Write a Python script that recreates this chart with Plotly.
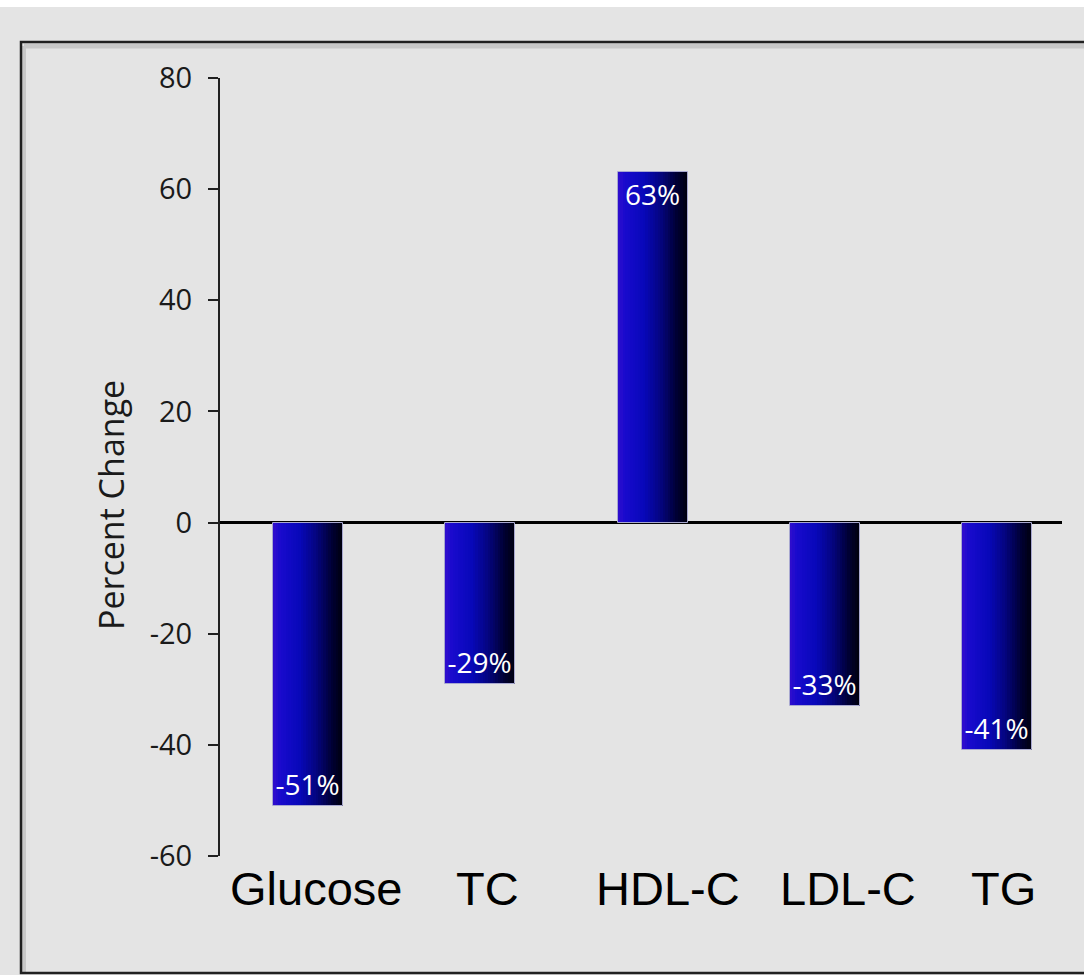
import plotly.graph_objects as go

# Percent change in each marker
categories = ["Glucose", "TC", "HDL-C", "LDL-C", "TG"]
percent_change = [-51, -29, 63, -33, -41]
value_labels = ["-51%", "-29%", "63%", "-33%", "-41%"]
y_ticks = [80, 60, 40, 20, 0, -20, -40, -60]
y_tick_text = ["80", "60", "40", "20", "0", "-20", "-40", "-60"]

W, H = 1084, 975
L, R, T, B = 220, 1062, 78, 856  # plot area in pixels

def px(x):
    return (x - L) / (R - L)

def py(y):
    return (B - y) / (B - T)

BAR_W = 0.406
N_STRIPS = 28

# horizontal blue-to-black shading of the bars
stops = [(0.0, (50, 14, 205)), (0.1, (24, 10, 205)), (0.38, (8, 8, 185)),
         (0.62, (4, 4, 125)), (0.84, (0, 0, 52)), (1.0, (0, 0, 12))]

def shade(t):
    for (t0, c0), (t1, c1) in zip(stops[:-1], stops[1:]):
        if t0 <= t <= t1:
            f = (t - t0) / (t1 - t0)
            return "rgb(%d,%d,%d)" % tuple(round(a + (b - a) * f) for a, b in zip(c0, c1))
    return "rgb(%d,%d,%d)" % stops[-1][1]

fig = go.Figure()
sw = BAR_W / N_STRIPS
for i in range(N_STRIPS):
    fig.add_trace(go.Bar(
        x=categories, y=percent_change,
        width=sw * 1.05, offset=-BAR_W / 2 + i * sw,
        marker=dict(color=shade((i + 0.5) / N_STRIPS), line=dict(width=0)),
        hoverinfo="skip", showlegend=False,
    ))

# outline + value labels
fig.add_trace(go.Bar(
    x=categories, y=percent_change, width=BAR_W, offset=-BAR_W / 2,
    marker=dict(color="rgba(0,0,0,0)", line=dict(color="#a8a8d0", width=1)),
    text=value_labels, textposition="inside", insidetextanchor="end",
    textangle=0,
    textfont=dict(family="Open Sans", size=28, color="white"),
    showlegend=False,
))

shapes = [
    # white strip along the top edge
    dict(type="rect", xref="paper", yref="paper", x0=px(-10), x1=px(W + 10),
         y0=py(7), y1=py(-10), fillcolor="white", line=dict(width=0), layer="below"),
    # inner shadow of the frame
    dict(type="line", xref="paper", yref="paper", x0=px(24), x1=px(24),
         y0=py(46), y1=py(972), line=dict(color="#c8c8c8", width=4), layer="below"),
    dict(type="line", xref="paper", yref="paper", x0=px(24), x1=px(W + 10),
         y0=py(46), y1=py(46), line=dict(color="#c8c8c8", width=5), layer="below"),
    # frame
    dict(type="rect", xref="paper", yref="paper", x0=px(21), x1=px(W + 20),
         y0=py(973), y1=py(42), line=dict(color="#202020", width=2.5),
         fillcolor="rgba(0,0,0,0)", layer="below"),
]

# category names sit a little right of the bar centres
label_shift = [8, 7, 15, 23, 6]
annotations = [
    dict(text="Percent Change", xref="paper", yref="paper", x=px(111), y=py(505),
         xanchor="center", yanchor="middle", textangle=-90, showarrow=False,
         font=dict(family="Open Sans", size=34, color="#1a1a1a")),
]
for cat, dx in zip(categories, label_shift):
    annotations.append(dict(
        text=cat, xref="x", yref="paper", x=cat, y=py(888), xshift=dx,
        xanchor="center", yanchor="middle", showarrow=False,
        font=dict(family="Liberation Sans", size=47, color="black")))

fig.update_layout(
    width=W, height=H,
    margin=dict(l=L, r=W - R, t=T, b=H - B, pad=0),
    paper_bgcolor="#e4e4e4", plot_bgcolor="rgba(0,0,0,0)",
    barmode="overlay", bargap=0,
    shapes=shapes, annotations=annotations,
    xaxis=dict(range=[-0.511, 4.377], showgrid=False, showline=False, ticks="",
               showticklabels=False, fixedrange=True),
    yaxis=dict(range=[-60, 80], tickvals=y_ticks, ticktext=y_tick_text,
               showgrid=False,
               showline=True, linecolor="#202020", linewidth=2,
               ticks="outside", ticklen=10, tickwidth=2, tickcolor="#202020",
               ticklabelstandoff=10,
               tickfont=dict(family="Open Sans", size=29, color="#1a1a1a"),
               zeroline=True, zerolinecolor="black", zerolinewidth=3,
               fixedrange=True),
    uniformtext=dict(mode="show", minsize=28),
)

fig.write_html("out.html")
